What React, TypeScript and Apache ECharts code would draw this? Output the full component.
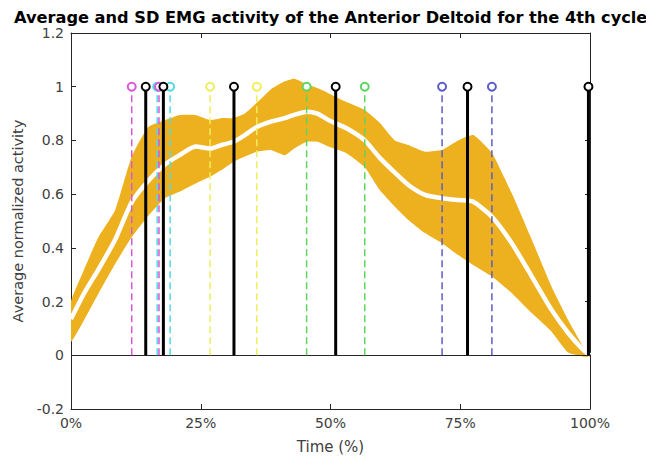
import React, { useEffect, useRef } from "react";
import * as echarts from "echarts";

const timePct = [0, 2.5, 5.3, 8.5, 11.7, 14.9, 18.1, 21, 24, 26.8, 29, 31.3, 33.5, 35.8, 38.5, 41.2, 43, 45.4, 47.5, 49.6, 53, 56.6, 59.5, 62.4, 65, 68.2, 71.4, 74.6, 77.5, 81.1, 84.9, 88.8, 92.6, 95.8, 98.7, 100];
const upperSD = [0.2, 0.318, 0.44, 0.54, 0.74, 0.85, 0.876, 0.895, 0.895, 0.876, 0.883, 0.883, 0.9, 0.94, 0.99, 1.02, 1.03, 1.01, 0.995, 0.976, 0.944, 0.913, 0.865, 0.8, 0.783, 0.758, 0.764, 0.8, 0.82, 0.753, 0.604, 0.43, 0.255, 0.131, 0.032, 0.005];
const meanAct = [0.135, 0.23, 0.32, 0.43, 0.57, 0.65, 0.71, 0.746, 0.777, 0.77, 0.783, 0.795, 0.82, 0.85, 0.87, 0.883, 0.895, 0.907, 0.9, 0.876, 0.846, 0.8, 0.735, 0.68, 0.634, 0.597, 0.585, 0.578, 0.572, 0.516, 0.418, 0.293, 0.169, 0.083, 0.02, 0.0];
const lowerSD = [0.05, 0.13, 0.23, 0.34, 0.44, 0.52, 0.585, 0.61, 0.64, 0.665, 0.69, 0.72, 0.74, 0.758, 0.764, 0.745, 0.77, 0.795, 0.795, 0.777, 0.753, 0.7, 0.615, 0.553, 0.504, 0.455, 0.418, 0.373, 0.336, 0.293, 0.232, 0.157, 0.088, 0.01, -0.005, -0.005];

const dashedEventPct = [11.7, 16.6, 16.95, 19.1, 26.8, 35.8, 45.4, 56.6, 71.5, 81.1];
const dashedEventKind = ["m", "c", "m", "c", "y", "y", "g", "g", "b", "b"];
const solidEventPct = [14.4, 17.8, 31.4, 51.0, 76.4, 99.7];
const eventLevel = 1;

const xTicks = [0, 25, 50, 75, 100];

const kindColor: Record<string, string> = {
  m: "#d957d9",
  c: "#4fdbe8",
  y: "#f0ee5a",
  g: "#5cd65c",
  b: "#5c5cc8",
};

export default function App() {
  const ref = useRef<HTMLDivElement>(null);
  useEffect(() => {
    if (!ref.current) return;
    const chart = echarts.init(ref.current, undefined, { renderer: "svg" });
    const font = "DejaVu Sans";
    const axisColor = "#262626";
    const labelColor = "#404040";

    const stemSeries = (x: number, color: string, width: number, dashed: boolean) => ({
      type: "line",
      data: [
        { value: [x, 0], symbol: "none" },
        { value: [x, eventLevel] },
      ],
      symbol: "emptyCircle",
      symbolSize: 8,
      showSymbol: true,
      lineStyle: { color, width, type: dashed ? [7, 4] : "solid" },
      itemStyle: { color, borderWidth: dashed ? 1.2 : 2.5 },
      z: dashed ? 5 : 6,
      silent: true,
    });

    const option: any = {
      animation: false,
      title: {
        text: "Average and SD EMG activity of the Anterior Deltoid for the 4th cycle",
        left: 9,
        top: 4,
        textStyle: { fontFamily: font, fontSize: 16.2, fontWeight: "bold", color: "#000" },
      },
      grid: { left: 71, right: 56, top: 33, bottom: 47, containLabel: false, outerBoundsMode: "none" },
      xAxis: [
        {
          type: "value",
          min: 0,
          max: 100,
          interval: 25,
          position: "bottom",
          name: "Time (%)",
          nameLocation: "middle",
          nameGap: 30,
          nameTextStyle: { fontFamily: font, fontSize: 15, color: labelColor },
          axisLine: { onZero: false, lineStyle: { color: axisColor, width: 1 } },
          axisTick: { inside: true, length: 5, lineStyle: { color: axisColor } },
          axisLabel: {
            formatter: (v: number) => (xTicks.includes(v) ? v + "%" : ""),
            fontFamily: font,
            fontSize: 14,
            color: labelColor,
            margin: 7,
          },
          splitLine: { show: false },
        },
        {
          type: "value",
          min: 0,
          max: 100,
          interval: 25,
          position: "top",
          axisLine: { onZero: false, lineStyle: { color: axisColor, width: 1 } },
          axisTick: { inside: true, length: 5, lineStyle: { color: axisColor } },
          axisLabel: { show: false },
          splitLine: { show: false },
        },
      ],
      yAxis: [
        {
          type: "value",
          min: -0.2,
          max: 1.2,
          interval: 0.2,
          position: "left",
          name: "Average normalized activity",
          nameLocation: "middle",
          nameGap: 33,
          nameTextStyle: { fontFamily: font, fontSize: 14.5, color: labelColor },
          axisLine: { show: true, onZero: false, lineStyle: { color: axisColor, width: 1 } },
          axisTick: { show: true, inside: true, length: 5, lineStyle: { color: axisColor } },
          axisLabel: {
            fontFamily: font,
            fontSize: 14,
            color: labelColor,
            margin: 7,
            formatter: (v: number) => String(Math.round(v * 10) / 10),
          },
          splitLine: { show: false },
        },
        {
          type: "value",
          min: -0.2,
          max: 1.2,
          interval: 0.2,
          position: "right",
          axisLine: { show: true, onZero: false, lineStyle: { color: axisColor, width: 1 } },
          axisTick: { show: true, inside: true, length: 5, lineStyle: { color: axisColor } },
          axisLabel: { show: false },
          splitLine: { show: false },
        },
      ],
      series: [
        {
          type: "custom",
          data: timePct.map((t, i) => [t, lowerSD[i], upperSD[i]]),
          encode: { x: 0, y: [1, 2] },
          silent: true,
          clip: true,
          z: 2,
          renderItem: (params: any, api: any) => {
            if (params.dataIndex !== 0) return null;
            const pts: number[][] = [];
            for (let i = 0; i < timePct.length; i++) pts.push(api.coord([timePct[i], upperSD[i]]));
            for (let i = timePct.length - 1; i >= 0; i--) pts.push(api.coord([timePct[i], lowerSD[i]]));
            return {
              type: "polygon",
              shape: { points: pts, smooth: 0.15 },
              style: { fill: "#EDB120", stroke: "none" },
            };
          },
        },
        {
          type: "line",
          data: timePct.map((t, i) => [t, meanAct[i]]),
          symbol: "none",
          smooth: 0.2,
          lineStyle: { color: "#ffffff", width: 4.5 },
          silent: true,
          z: 3,
          markLine: {
            silent: true,
            symbol: "none",
            label: { show: false },
            lineStyle: { color: axisColor, width: 1, type: "solid" },
            data: [{ yAxis: 0 }],
          },
        },
        ...dashedEventPct.map((x, i) => stemSeries(x, kindColor[dashedEventKind[i]], 1.5, true)),
        ...solidEventPct.map((x) => stemSeries(x, "#000000", 3, false)),
      ],
    };
    chart.setOption(option);
    return () => chart.dispose();
  }, []);
  return (
    <div
      ref={ref}
      style={{ position: "absolute", left: 0, top: 0, width: 646, height: 456, background: "#fff" }}
    />
  );
}
